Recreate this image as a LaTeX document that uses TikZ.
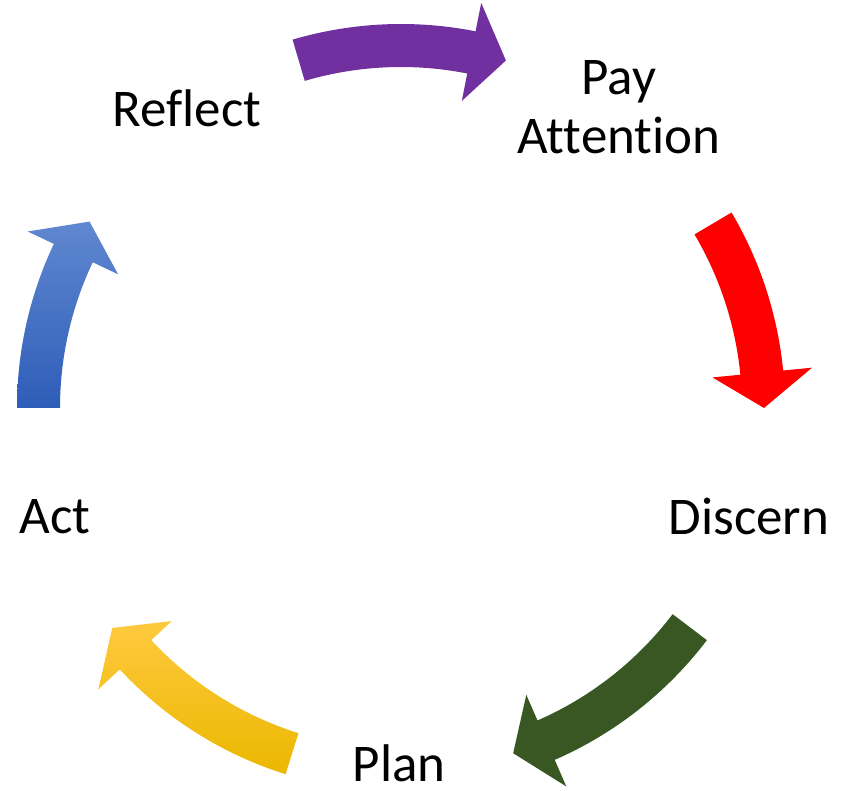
\documentclass[tikz,border=0pt]{standalone}
\usepackage{fontspec}
\setmainfont{Carlito}[Ligatures=NoCommon]
\usetikzlibrary{calc}
\definecolor{cpurple}{HTML}{7030A0}
\definecolor{cred}{HTML}{FF0000}
\definecolor{cgreen}{HTML}{385723}
\definecolor{cyellowtop}{HTML}{FFC93F}
\definecolor{cyellowmid}{HTML}{FFC600}
\definecolor{cyellowbot}{HTML}{EAB800}
\definecolor{cbluetop}{HTML}{6088D0}
\definecolor{cbluemid}{HTML}{4472C4}
\definecolor{cbluebot}{HTML}{2E5DB8}
\tikzset{
  label text/.style={font=\fontsize{53}{59}\selectfont, inner sep=0pt, text=black},
  arrow body/.style={draw=none},
}
% #1 = tail angle, #2 = tip angle, #3 = fill options
\newcommand\cyclearrow[3]{%
  \pgfmathsetmacro\hb{#2+5.6}%
  \path[arrow body,#3] (#1:384) arc[start angle=#1, end angle=\hb, radius=384]
    -- (\hb:413) -- (#2:363) -- (\hb:313) -- (\hb:341)
    arc[start angle=\hb, end angle=#1, radius=341] -- cycle;}
\begin{document}
\begin{tikzpicture}[x=1pt,y=1pt]
\useasboundingbox (0,0) rectangle (843,791);
\begin{scope}[shift={(401,383)}]
  \cyclearrow{106.4}{73.2}{fill=cpurple}
  \cyclearrow{30.6}{0}{fill=cred}
  \cyclearrow{-37.2}{-72}{fill=cgreen}
  \cyclearrow{-107.5}{-142.7}{top color=cyellowtop, middle color=cyellowmid, bottom color=cyellowbot}
  \cyclearrow{180}{149.1}{top color=cbluetop, middle color=cbluemid, bottom color=cbluebot}
\end{scope}
\node[label text, anchor=base] (reflect) at (187,664) {Reflect};
\node[label text, anchor=base, align=center] (pay) at (619,637) {Pay\\Attention};
\node[label text, anchor=base] (discern) at (749,256) {Discern};
\node[label text, anchor=base] (plan) at (399,9) {Plan};
\node[label text, anchor=base] (act) at (55,257) {Act};
\end{tikzpicture}
\end{document}
